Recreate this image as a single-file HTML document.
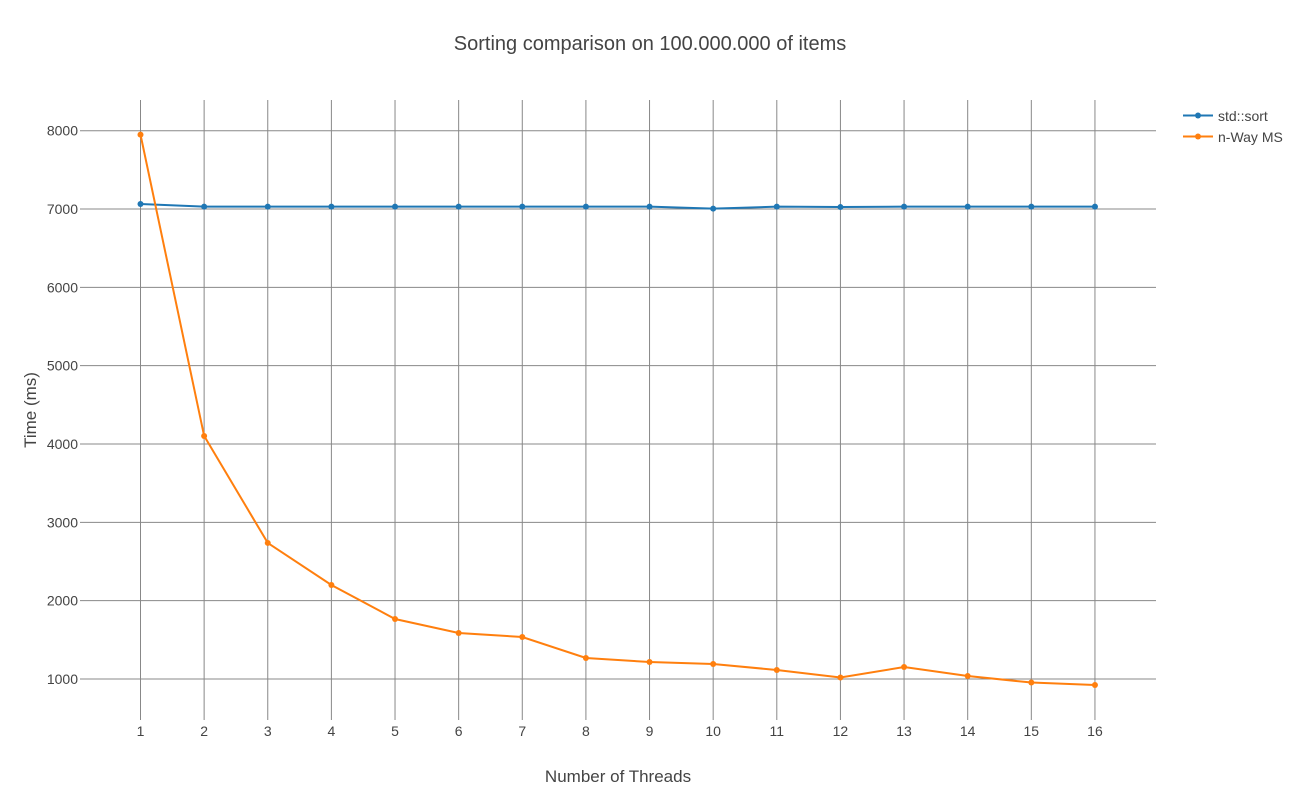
<!DOCTYPE html>
<html><head><meta charset="utf-8"><style>
body{margin:0;background:#fff;font-family:"Liberation Sans",sans-serif;}
svg text{font-family:"Liberation Sans",sans-serif;fill:#444;}
</style></head><body>
<svg width="1300" height="800">
<text x="650" y="50" text-anchor="middle" font-size="20">Sorting comparison on 100.000.000 of items</text>
<g id="grid"></g><g id="series"></g>
<text x="618" y="782" text-anchor="middle" font-size="17">Number of Threads</text>
<text transform="translate(36,410) rotate(-90)" text-anchor="middle" font-size="17">Time (ms)</text>
<g>
<g><line x1="1183" y1="115.5" x2="1213" y2="115.5" stroke="#1f77b4" stroke-width="2"/><circle cx="1198" cy="115.5" r="3" fill="#1f77b4"/><text x="1218" y="121" font-size="14">std::sort</text></g>
<g><line x1="1183" y1="136.5" x2="1213" y2="136.5" stroke="#ff7f0e" stroke-width="2"/><circle cx="1198" cy="136.5" r="3" fill="#ff7f0e"/><text x="1218" y="142" font-size="14">n-Way MS</text></g>
</g>
</svg>
<script>
const threads=[1,2,3,4,5,6,7,8,9,10,11,12,13,14,15,16];
const stdSort=[7064,7030,7030,7030,7030,7030,7030,7030,7030,7005,7030,7025,7030,7030,7030,7030];
const nWayMS=[7950,4103,2737,2200,1766,1587,1536,1268,1217,1192,1115,1019,1153,1038,955,923];
const yTicks=[1000,2000,3000,4000,5000,6000,7000,8000];
const NS="http://www.w3.org/2000/svg";
function xs(t){return 140.5+(t-1)*63.63;}
function ys(v){return 679-(v-1000)*0.07833;}
function mk(tag,attrs,parent){const e=document.createElementNS(NS,tag);for(const k in attrs)e.setAttribute(k,attrs[k]);parent.appendChild(e);return e;}
const grid=document.getElementById('grid'),ser=document.getElementById('series');
yTicks.forEach(v=>{
 const l=mk('line',{x1:80,x2:1156,y1:ys(v),y2:ys(v),stroke:'#888','stroke-width':1},grid);
 
 
 const t=mk('text',{x:78,y:ys(v)+5,'text-anchor':'end','font-size':14},grid);t.textContent=v;
 
 
});
threads.forEach(d=>{
 const l=mk('line',{x1:xs(d),x2:xs(d),y1:100,y2:720,stroke:'#888','stroke-width':1},grid);
 
 
 const t=mk('text',{x:xs(d),y:736,'text-anchor':'middle','font-size':14},grid);t.textContent=d;
 
 
});
[[stdSort,'#1f77b4','std-sort'],[nWayMS,'#ff7f0e','n-way-ms']].forEach(([vals,c,n])=>{
 const p=mk('polyline',{points:vals.map((v,i)=>xs(threads[i])+','+ys(v)).join(' '),fill:'none',stroke:c,'stroke-width':2},ser);
 
 
 vals.forEach((v,i)=>{
  const m=mk('circle',{cx:xs(threads[i]),cy:ys(v),r:3,fill:c},ser);
  
  
 });
});
</script>
</body></html>
